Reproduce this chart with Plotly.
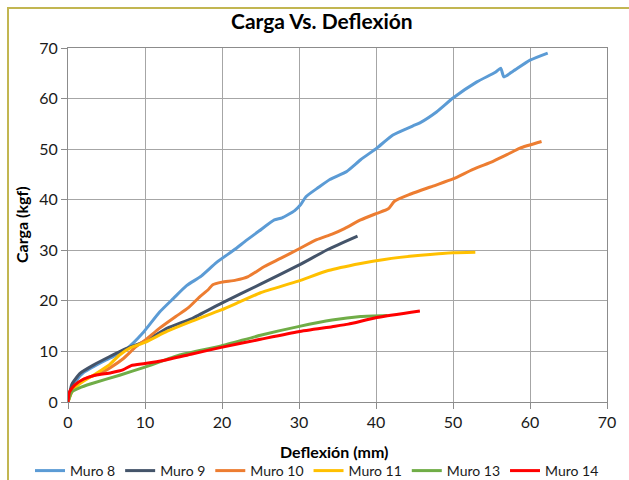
import plotly.graph_objects as go

# ---- data ----
m8_x = [0, 0.3, 1.1, 2, 3.3, 4.5, 5.9, 7.6, 9.8, 11.9, 13.7, 15.4, 17.3, 19.3, 21.5, 23.2, 24.8, 26.8, 27.8, 29.4, 30.2, 30.9, 32.5, 34, 36.2, 38, 40.1, 42.2, 44.8, 45.7, 47.9, 50, 53.1, 55.5, 56.2, 56.6, 57.8, 60, 62.3]
m8_y = [0, 2.2, 4.3, 5.8, 7.0, 8.0, 9.0, 10.5, 13.8, 17.8, 20.5, 23.0, 24.9, 27.6, 30.0, 32.0, 33.8, 36.0, 36.4, 37.8, 39.0, 40.6, 42.4, 44.0, 45.6, 47.9, 50.2, 52.8, 54.6, 55.2, 57.4, 60.1, 63.3, 65.2, 66.0, 64.3, 65.4, 67.6, 69.0]

m9_x = [0, 0.5, 1.6, 3.3, 5.3, 7.6, 10, 12.9, 16.1, 19.9, 25, 29.9, 33.8, 37.6]
m9_y = [0, 3.5, 5.7, 7.3, 8.9, 10.6, 12.0, 14.6, 16.5, 19.5, 23.3, 27.0, 30.2, 32.8]

m10_x = [0, 0.6, 2, 4.1, 5.6, 7.2, 8.8, 10, 11.9, 14, 15.6, 17.1, 18.2, 18.8, 20, 21.8, 23.4, 25.5, 27.6, 29.9, 32.3, 34.3, 35.9, 38, 40.1, 41.6, 42.4, 44.3, 47.4, 50, 52.6, 55.2, 57, 58.7, 61.5]
m10_y = [0, 2.6, 4.5, 5.6, 6.9, 8.6, 10.9, 12.2, 14.6, 16.9, 18.6, 20.8, 22.2, 23.2, 23.7, 24.1, 24.8, 26.8, 28.4, 30.2, 32.1, 33.2, 34.3, 36.0, 37.3, 38.2, 39.7, 41.0, 42.7, 44.1, 46.0, 47.6, 48.9, 50.2, 51.5]

m11_x = [0, 0.5, 1.5, 3.5, 5.4, 6.7, 8.2, 10, 12.9, 16.1, 19.9, 22.3, 25, 29.9, 33.8, 38, 41.1, 45.8, 50, 52.9]
m11_y = [0, 2.0, 3.6, 5.5, 7.4, 9.3, 10.8, 11.8, 14.0, 16.0, 18.2, 19.8, 21.6, 23.9, 26.0, 27.4, 28.2, 29.0, 29.5, 29.6]

m13_x = [0, 0.5, 1.5, 3, 6.7, 10, 14.5, 19.9, 25, 29.9, 34.3, 38, 41.5]
m13_y = [0, 2.0, 2.8, 3.6, 5.3, 6.9, 9.3, 11.1, 13.2, 14.9, 16.2, 16.9, 17.1]

m14_x = [0, 0.2, 0.9, 2, 3.5, 5.6, 7.2, 8.2, 10, 12.4, 16.1, 19.9, 25, 29.9, 34.3, 36.4, 40.1, 45.7]
m14_y = [0, 2.0, 3.4, 4.5, 5.3, 5.8, 6.4, 7.2, 7.6, 8.2, 9.5, 10.8, 12.4, 13.9, 14.9, 15.4, 16.7, 18.0]

series_names = ["Muro 8", "Muro 9", "Muro 10", "Muro 11", "Muro 13", "Muro 14"]
series_x = [m8_x, m9_x, m10_x, m11_x, m13_x, m14_x]
series_y = [m8_y, m9_y, m10_y, m11_y, m13_y, m14_y]
colors = ["#5B9BD5", "#44546A", "#ED7D31", "#FFC000", "#70AD47", "#FF0000"]

x_ticks = [0, 10, 20, 30, 40, 50, 60, 70]
y_ticks = [0, 10, 20, 30, 40, 50, 60, 70]

FONT = "Lato"
W, H = 629, 480
L, R, T, B = 68, 607, 48, 402

def px(xp):
    return (xp - L) / (R - L)

def py(yp):
    return (B - yp) / (B - T)

fig = go.Figure()
for n, xs, ys, c in zip(series_names, series_x, series_y, colors):
    fig.add_trace(go.Scatter(x=xs, y=ys, name=n, mode="lines",
                             line=dict(color=c, width=3, shape="spline", smoothing=0.5)))

axis_common = dict(showgrid=True, gridcolor="#A6A6A6", gridwidth=1,
                   showline=True, linecolor="#8C8C8C", linewidth=1, mirror=True,
                   ticks="outside", ticklen=6, tickcolor="#8C8C8C",
                   tickfont=dict(family=FONT, size=16, color="#1a1a1a"),
                   zeroline=False, automargin=False)

fig.update_xaxes(range=[0, 70], tickvals=x_ticks, **axis_common)
fig.update_yaxes(range=[0, 70], tickvals=y_ticks, **axis_common)

fig.update_layout(
    width=W, height=H,
    margin=dict(l=L, r=W - R, t=T, b=H - B, autoexpand=False),
    plot_bgcolor="white", paper_bgcolor="white",
    showlegend=True,
    legend=dict(orientation="h", x=px(30), xanchor="left", y=py(471), yanchor="middle",
                font=dict(family=FONT, size=14, color="#1a1a1a"),
                itemwidth=30, tracegroupgap=0, bgcolor="rgba(0,0,0,0)"),
    annotations=[
        dict(text="<b>Carga Vs. Deflexión</b>", x=px(322), y=py(20), xref="paper", yref="paper",
             showarrow=False, font=dict(family=FONT, size=21, color="#000"),
             xanchor="center", yanchor="middle"),
        dict(text="<b>Deflexión (mm)</b>", x=px(334), y=py(451), xref="paper", yref="paper",
             showarrow=False, font=dict(family=FONT, size=16, color="#000"),
             xanchor="center", yanchor="middle"),
        dict(text="<b>Carga (kgf)</b>", x=px(21), y=py(225), xref="paper", yref="paper",
             showarrow=False, textangle=-90, font=dict(family=FONT, size=16, color="#000"),
             xanchor="center", yanchor="middle"),
    ],
    shapes=[
        dict(type="rect", xref="paper", yref="paper",
             x0=px(8), y0=py(700), x1=px(800), y1=py(8),
             line=dict(color="#C2B651", width=2), fillcolor="rgba(0,0,0,0)", layer="below"),
    ],
)

fig.write_html("out.html", config={"displayModeBar": False},
               post_script="document.body.style.margin='0';document.body.style.overflow='hidden';")
